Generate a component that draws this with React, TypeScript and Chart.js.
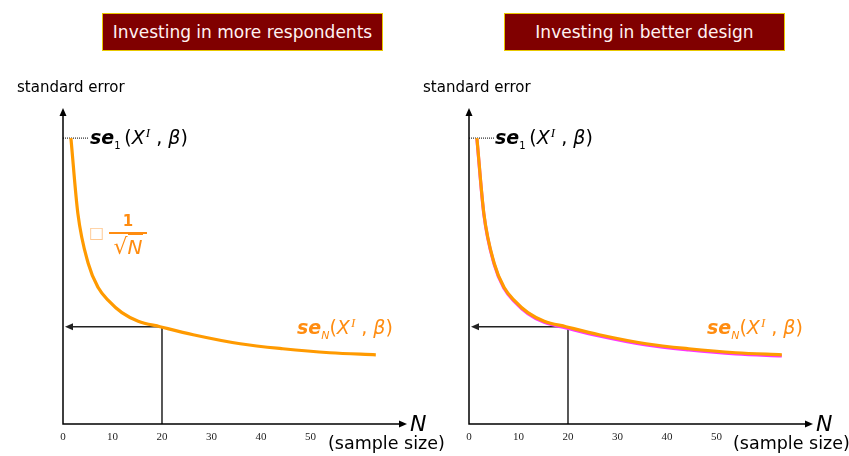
import React, { useEffect, useRef } from 'react';
import { Chart, registerables } from 'chart.js';
Chart.register(...registerables);

// ---- data ----
const sampleSizes = [1.6, 3.0, 5.1, 7.1, 9.2, 11.9, 15.2, 19.6, 26.3, 35.8, 44.4, 53.9, 63.2];
const seMoreRespondents = [2.85, 2.10, 1.60, 1.36, 1.23, 1.11, 1.025, 0.97, 0.89, 0.80, 0.75, 0.71, 0.69];
const seBetterDesignOld = [2.85, 2.10, 1.60, 1.36, 1.23, 1.11, 1.025, 0.97, 0.89, 0.80, 0.75, 0.71, 0.69];
const seBetterDesignNew = [2.84, 2.09, 1.59, 1.35, 1.22, 1.10, 1.013, 0.958, 0.878, 0.788, 0.738, 0.698, 0.678];
const xTickLabels = [0, 10, 20, 30, 40, 50];
const guideN = [20];
const guideSE = [0.97];
const panelTitles = ['Investing in more respondents', 'Investing in better design'];

const SANS = "'DejaVu Sans', Verdana, sans-serif";
const SERIF = "'Liberation Serif', 'Times New Roman', serif";
const ORANGE = '#FF9A00';
const ORANGE_TEXT = '#FF8C10';

function arrowHead(ctx: CanvasRenderingContext2D, x: number, y: number, dx: number, dy: number) {
  const len = 8, half = 3.5;
  const px = -dy, py = dx;
  ctx.beginPath();
  ctx.moveTo(x, y);
  ctx.lineTo(x - dx * len + px * half, y - dy * len + py * half);
  ctx.lineTo(x - dx * len - px * half, y - dy * len - py * half);
  ctx.closePath();
  ctx.fill();
}

const axesPlugin = {
  id: 'axesArrows',
  beforeDatasetsDraw(chart: any) {
    const { ctx, chartArea, scales } = chart;
    const x = scales.x, y = scales.y;
    const gx = x.getPixelForValue(guideN[0]);
    const gy = y.getPixelForValue(guideSE[0]);
    ctx.save();
    ctx.strokeStyle = '#222';
    ctx.fillStyle = '#222';
    ctx.lineWidth = 1.5;
    ctx.beginPath();
    ctx.moveTo(gx, chartArea.bottom);
    ctx.lineTo(gx, gy);
    ctx.lineTo(chartArea.left + 8, gy);
    ctx.stroke();
    arrowHead(ctx, chartArea.left + 2, gy, -1, 0);
    const fy = y.getPixelForValue(chart.data.datasets[0].data[0].y);
    ctx.lineWidth = 1;
    ctx.strokeStyle = '#000';
    ctx.setLineDash([1, 1]);
    ctx.beginPath();
    ctx.moveTo(chartArea.left, fy);
    ctx.lineTo(chartArea.left + 26, fy);
    ctx.stroke();
    ctx.restore();
  },
  afterDraw(chart: any) {
    const { ctx, chartArea } = chart;
    ctx.save();
    ctx.strokeStyle = '#000';
    ctx.fillStyle = '#000';
    ctx.lineWidth = 1.5;
    ctx.beginPath();
    ctx.moveTo(chartArea.left, chartArea.top + 6);
    ctx.lineTo(chartArea.left, chartArea.bottom);
    ctx.lineTo(chartArea.right - 6, chartArea.bottom);
    ctx.stroke();
    arrowHead(ctx, chartArea.left, chartArea.top, 0, -1);
    arrowHead(ctx, chartArea.right, chartArea.bottom, 1, 0);
    ctx.restore();
  },
};

function makeChart(canvas: HTMLCanvasElement, series: number[][], colors: string[], padLeft: number, padRight: number) {
  return new Chart(canvas, {
    type: 'line',
    data: {
      datasets: series.map((s, i) => ({
        data: sampleSizes.map((n, k) => ({ x: n, y: s[k] })),
        borderColor: colors[i],
        borderWidth: 3.2,
        pointRadius: 0,
        cubicInterpolationMode: 'monotone' as const,
        fill: false,
      })),
    },
    options: {
      responsive: false,
      animation: false,
      layout: { padding: { left: padLeft, right: padRight, top: 108, bottom: 4.8 } },
      plugins: { legend: { display: false }, tooltip: { enabled: false }, title: { display: false } },
      scales: {
        x: {
          type: 'linear',
          min: 0,
          max: 69.5,
          grid: { display: false, drawTicks: false },
          border: { display: false },
          ticks: {
            stepSize: 10,
            autoSkip: false,
            maxRotation: 0,
            padding: 7,
            color: '#222',
            font: { family: SERIF, size: 11 },
            callback: (v: any) => (xTickLabels.includes(Number(v)) ? String(v) : ''),
          },
        },
        y: { type: 'linear', display: false, min: 0, max: 3.15 },
      },
    },
    plugins: [axesPlugin],
  });
}

const abs = (left: number, top: number, extra: React.CSSProperties = {}): React.CSSProperties => ({
  position: 'absolute', left, top, whiteSpace: 'nowrap', lineHeight: 1, ...extra,
});

function SeLabel({ sub, color, left, top }: { sub: string; color: string; left: number; top: number }) {
  return (
    <div style={abs(left, top, { color, fontFamily: SANS, fontSize: 19 })}>
      <span style={{ fontStyle: 'italic', fontWeight: 'bold' }}>se</span>
      <span style={{ fontSize: sub === 'N' ? 11 : 10, position: 'relative', top: 5, fontStyle: sub === 'N' ? 'italic' : 'normal' }}>{sub}</span>
      <span>{sub === 'N' ? '(' : '\u2009('}</span>
      <span style={{ fontStyle: 'italic' }}>X</span>
      <span style={{ fontFamily: SERIF, fontStyle: 'italic', fontSize: 13, position: 'relative', top: -7, marginLeft: 1 }}>I</span>
      <span>{'\u00a0,\u00a0'}</span>
      <span style={{ fontStyle: 'italic' }}>β</span>
      <span>)</span>
    </div>
  );
}

function TitleBox({ text, left }: { text: string; left: number }) {
  return (
    <div style={abs(left, 13, {
      width: 281, height: 38, boxSizing: 'border-box', background: '#800000', border: '1px solid #E8C800',
      color: '#FFF2F2', fontFamily: SANS, fontSize: 17, display: 'flex', alignItems: 'center', justifyContent: 'center',
    })}>{text}</div>
  );
}

export default function App() {
  const leftRef = useRef<HTMLCanvasElement>(null);
  const rightRef = useRef<HTMLCanvasElement>(null);
  useEffect(() => {
    const c1 = makeChart(leftRef.current!, [seMoreRespondents], [ORANGE], 63, 17);
    const c2 = makeChart(rightRef.current!, [seBetterDesignOld, seBetterDesignNew], [ORANGE, '#FF33FF'], 45, 36);
    return () => { c1.destroy(); c2.destroy(); };
  }, []);
  return (
    <div style={{ position: 'absolute', left: 0, top: 0, width: 849, height: 456, background: '#fff', overflow: 'hidden' }}>
      <canvas ref={leftRef} width={424} height={456} style={{ position: 'absolute', left: 0, top: 0 }} />
      <canvas ref={rightRef} width={425} height={456} style={{ position: 'absolute', left: 424, top: 0 }} />
      <TitleBox text={panelTitles[0]} left={102} />
      <TitleBox text={panelTitles[1]} left={504} />
      <div style={abs(17, 80, { fontFamily: SANS, fontSize: 15, color: '#000' })}>standard error</div>
      <div style={abs(423, 80, { fontFamily: SANS, fontSize: 15, color: '#000' })}>standard error</div>
      <SeLabel sub="1" color="#000" left={90} top={128} />
      <SeLabel sub="1" color="#000" left={495} top={128} />
      <SeLabel sub="N" color={ORANGE_TEXT} left={297} top={318} />
      <SeLabel sub="N" color={ORANGE_TEXT} left={707} top={318} />
      <div style={abs(89, 225, { fontFamily: SANS, fontSize: 16, color: '#FFC890' })}>□</div>
      <div style={abs(109, 214, { width: 38, color: ORANGE_TEXT, fontFamily: SANS, textAlign: 'center' })}>
        <div style={{ fontSize: 15, fontWeight: 'bold', height: 18 }}>1</div>
        <div style={{ borderTop: `2px solid ${ORANGE_TEXT}`, paddingTop: 1, fontSize: 20, lineHeight: 1.1 }}>
          <span style={{ fontSize: 22 }}>√</span><span style={{ fontStyle: 'italic', borderTop: `1.5px solid ${ORANGE_TEXT}` }}>N</span>
        </div>
      </div>
      <div style={abs(410, 413, { fontFamily: SANS, fontSize: 22, fontStyle: 'italic', color: '#000' })}>N</div>
      <div style={abs(816, 413, { fontFamily: SANS, fontSize: 22, fontStyle: 'italic', color: '#000' })}>N</div>
      <div style={abs(328, 435, { fontFamily: SANS, fontSize: 17.5, color: '#000' })}>(sample size)</div>
      <div style={abs(733, 435, { fontFamily: SANS, fontSize: 17.5, color: '#000' })}>(sample size)</div>
    </div>
  );
}
